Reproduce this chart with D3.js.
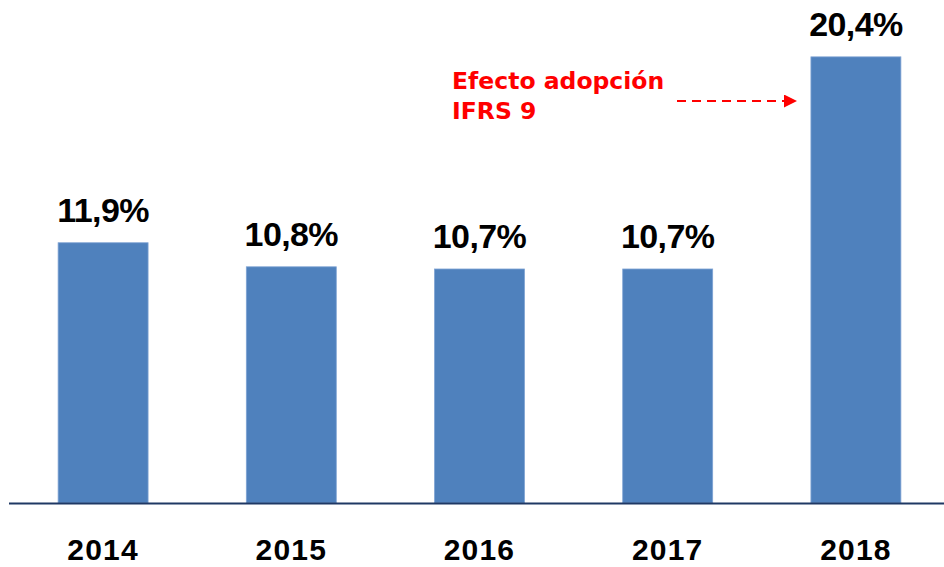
<!DOCTYPE html>
<html><head><meta charset="utf-8">
<script src="https://cdn.jsdelivr.net/npm/d3@7"></script>
<style>body{margin:0;background:#fff}svg{display:block}</style>
</head><body>
<svg id="c" width="944" height="567"></svg>
<script>
const years = ["2014","2015","2016","2017","2018"];
const values = [11.9, 10.8, 10.7, 10.7, 20.4];
const valueLabels = ["11,9%","10,8%","10,7%","10,7%","20,4%"];
const noteLines = ["Efecto adopción","IFRS 9"];

const svg = d3.select("#c");
const x = d3.scaleBand().domain(years).range([9, 950]).paddingInner(0.522).paddingOuter(0.261);
const y = d3.scaleLinear().domain([0, 23]).range([503, 0]);

svg.selectAll("rect.bar").data(values).join("rect")
  .attr("class","bar")
  .attr("x",(d,i)=>x(years[i])).attr("width",x.bandwidth())
  .attr("y",d=>y(d)).attr("height",d=>y(0)-y(d))
  .attr("fill","#4F81BD").attr("stroke","#7FA3D3").attr("stroke-width",0.8);

svg.append("line").attr("x1",9).attr("x2",944).attr("y1",y(0)+0.5).attr("y2",y(0)+0.5)
  .attr("stroke","#1F3864").attr("stroke-width",2);

const font = "'Liberation Sans',Arial,sans-serif";
svg.selectAll("text.val").data(values).join("text")
  .attr("class","val")
  .attr("x",(d,i)=>x(years[i])+x.bandwidth()/2).attr("y",d=>y(d)-21)
  .attr("text-anchor","middle").attr("font-family",font).attr("font-weight","bold")
  .attr("font-size",34).attr("letter-spacing",-0.6).attr("fill","#000").text((d,i)=>valueLabels[i]);

svg.selectAll("text.yr").data(years).join("text")
  .attr("class","yr")
  .attr("x",d=>x(d)+x.bandwidth()/2).attr("y",560)
  .attr("text-anchor","middle").attr("font-family",font).attr("font-weight","bold")
  .attr("font-size",30).attr("letter-spacing",1.2).attr("fill","#000").text(d=>d);

svg.selectAll("text.note").data(noteLines).join("text")
  .attr("class","note")
  .attr("x",452).attr("y",(d,i)=>89+i*30)
  .attr("font-family","'DejaVu Sans',Verdana,sans-serif").attr("font-weight","bold")
  .attr("font-size",23.5).attr("fill","#FF0000").text(d=>d);

svg.append("defs").append("marker").attr("id","ah").attr("viewBox","0 0 10 10")
  .attr("refX",10).attr("refY",5).attr("markerWidth",15).attr("markerHeight",13)
  .attr("markerUnits","userSpaceOnUse").attr("orient","auto")
  .append("path").attr("d","M0,0L10,5L0,10Z").attr("fill","#FF0000");
svg.append("line").attr("x1",677).attr("x2",797).attr("y1",101).attr("y2",101)
  .attr("stroke","#FF0000").attr("stroke-width",2.2).attr("stroke-dasharray","9,6")
  .attr("marker-end","url(#ah)");
</script>
</body></html>
